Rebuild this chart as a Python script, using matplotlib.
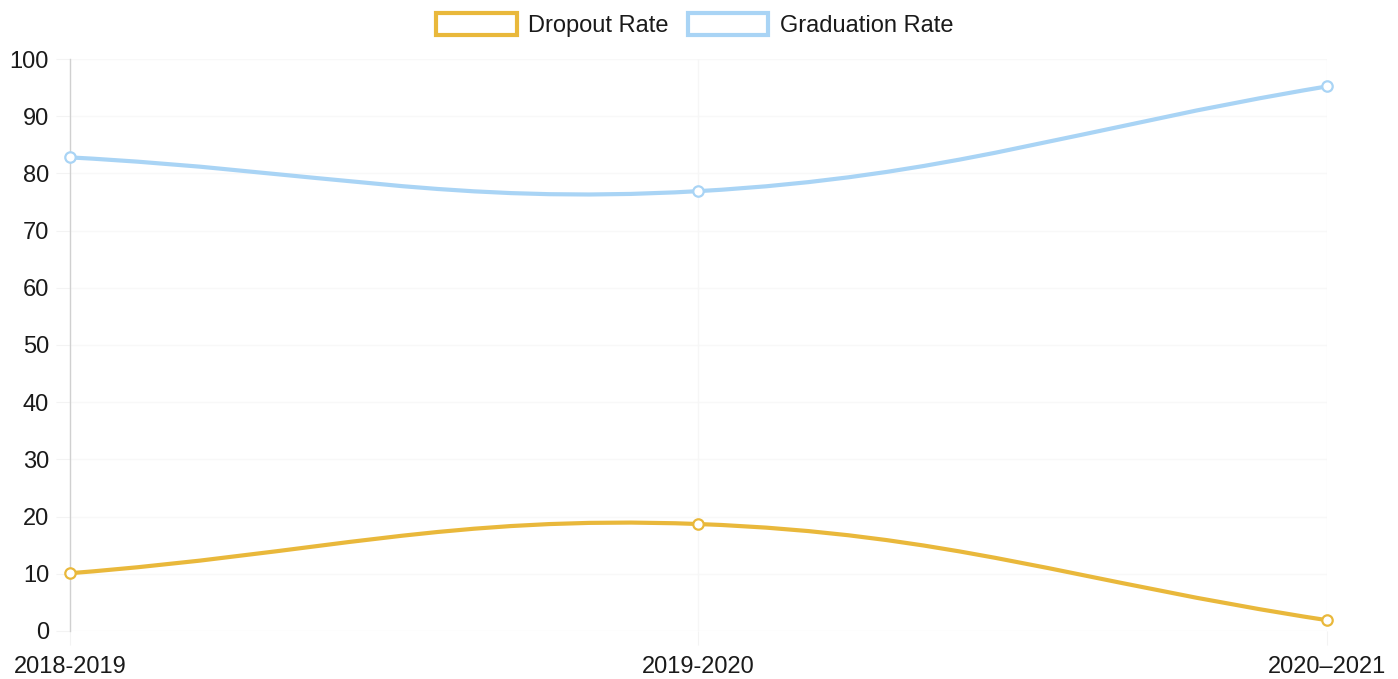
import numpy as np
import matplotlib.pyplot as plt
from matplotlib.path import Path
from matplotlib.patches import PathPatch, Patch

plt.rcParams['font.family'] = ['Liberation Sans', 'DejaVu Sans']

years = ["2018-2019", "2019-2020", "2020\u20132021"]
dropout = [10.1, 18.7, 1.9]
graduation = [82.8, 76.9, 95.2]

dropout_color = "#E9B83B"
grad_color = "#A9D4F5"

fig = plt.figure(figsize=(13.98, 6.79), dpi=100)
ax = fig.add_axes([0.050, 0.0707, 0.899, 0.8424])
x = np.arange(len(years))
ax.set_xlim(0, len(years) - 1)
ax.set_ylim(0, 100)


def spline_path(xs, ys, tension=0.4):
    # same idea as chart.js bezier smoothing, done in pixel space
    pts = ax.transData.transform(np.column_stack([xs, ys]))
    n = len(pts)
    cps = []
    for i in range(n):
        cur = pts[i]
        prev = pts[i - 1] if i > 0 else cur
        nxt = pts[i + 1] if i < n - 1 else cur
        d01 = np.hypot(*(cur - prev))
        d12 = np.hypot(*(nxt - cur))
        s01 = d01 / (d01 + d12)
        s12 = d12 / (d01 + d12)
        cps.append((cur - tension * s01 * (nxt - prev),
                    cur + tension * s12 * (nxt - prev)))
    verts = [pts[0]]
    codes = [Path.MOVETO]
    for i in range(n - 1):
        verts += [cps[i][1], cps[i + 1][0], pts[i + 1]]
        codes += [Path.CURVE4] * 3
    verts = ax.transData.inverted().transform(np.array(verts))
    return Path(verts, codes)


# faint grid
for v in range(0, 101, 10):
    ax.axhline(v, color="#f8f8f8", lw=1, zorder=0)
for xi in x[1:]:
    ax.axvline(xi, color="#f6f6f6", lw=1, zorder=0)

for vals, col in [(dropout, dropout_color), (graduation, grad_color)]:
    ax.add_patch(PathPatch(spline_path(x, vals), facecolor="none",
                           edgecolor=col, lw=3, capstyle="round", zorder=3))
    ax.plot(x, vals, "o", ms=7.5, mfc="white", mec=col, mew=1.6, zorder=4,
            clip_on=False)

for s in ["top", "right", "bottom"]:
    ax.spines[s].set_visible(False)
ax.spines["left"].set_color("#d0d0d0")
ax.spines["left"].set_linewidth(1)

ax.set_xticks(x)
ax.set_xticklabels(years)
ax.set_yticks(range(0, 101, 10))
ax.tick_params(axis="x", length=10, pad=8, colors="#f3f3f3", labelcolor="#1a1a1a",
               labelsize=17)
ax.tick_params(axis="y", length=10, pad=5, colors="#f3f3f3", labelcolor="#1a1a1a",
               labelsize=17)
ax.xaxis.get_major_ticks()[0].tick1line.set_color("#d0d0d0")
ax.yaxis.get_major_ticks()[0].tick1line.set_color("#d0d0d0")

handles = [Patch(facecolor="white", edgecolor=dropout_color, lw=3, label="Dropout Rate"),
           Patch(facecolor="white", edgecolor=grad_color, lw=3, label="Graduation Rate")]
fig.legend(handles=handles, loc="upper center", bbox_to_anchor=(0.497, 1.012), ncol=2,
           frameon=False, fontsize=17, handlelength=3.4, handleheight=1.05,
           handletextpad=0.5, columnspacing=0.8, labelcolor="#1a1a1a")

fig.savefig("out.png", dpi=100)
